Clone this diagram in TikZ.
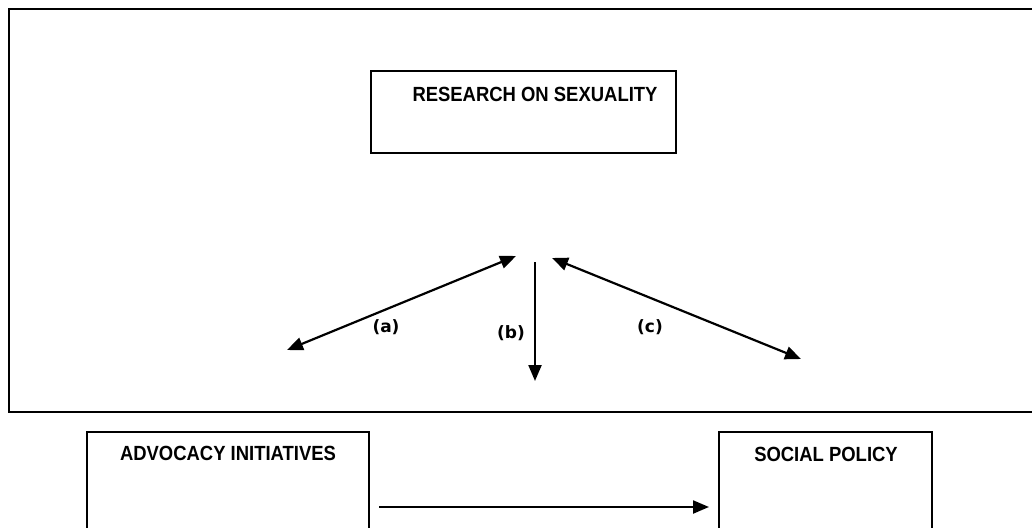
\documentclass[tikz,border=0pt]{standalone}
\usepackage{fontspec}
\setmainfont{Liberation Sans}
\newfontfamily\boxfont[FakeStretch=0.9]{Liberation Sans}
\newfontfamily\labfont{DejaVu Sans}
\usetikzlibrary{arrows.meta}
\begin{document}
\begin{tikzpicture}[x=1pt,y=-1pt,
  boxstyle/.style={draw, line width=1.8pt, rectangle, inner sep=0pt},
  boxtext/.style={anchor=north, inner sep=0pt, font=\boxfont\bfseries\fontsize{20.5}{22}\selectfont},
  lab/.style={inner sep=0pt, font=\labfont\bfseries\fontsize{17}{19}\selectfont},
  arr/.style={line width=2.2pt, -{Triangle[length=16pt,width=13pt]}},
  darr/.style={line width=2.2pt, {Triangle[length=16pt,width=13pt]}-{Triangle[length=16pt,width=13pt]}}]
\clip (0,0) rectangle (1032,527);
\fill[white] (0,0) rectangle (1032,527);
% frame
\draw[line width=2.4pt] (1050,9) -- (9,9) -- (9,412) -- (1050,412);
% boxes
\node[boxstyle, minimum width=305pt, minimum height=82pt] (research) at (523.5,112) {};
\node[boxtext] (researchtxt) at (535,87) {RESEARCH ON SEXUALITY};
\node[boxstyle, minimum width=282pt, minimum height=130pt] (advocacy) at (228,497) {};
\node[boxtext] (advocacytxt) at (228,446) {ADVOCACY INITIATIVES};
\node[boxstyle, minimum width=213pt, minimum height=130pt] (social) at (825.5,497) {};
\node[boxtext] (socialtxt) at (826,447) {SOCIAL POLICY};
% arrow end points
\coordinate (a1) at (287,350);
\coordinate (a2) at (516,256);
\coordinate (b1) at (535,262);
\coordinate (b2) at (535,381);
\coordinate (c1) at (552,258);
\coordinate (c2) at (801,359);
\coordinate (h1) at (379,507);
\coordinate (h2) at (709,507);
\draw[darr] (a1) -- (a2);
\draw[arr] (b1) -- (b2);
\draw[darr] (c1) -- (c2);
\draw[arr] (h1) -- (h2);
% labels
\node[lab] (la) at (386,327) {(a)};
\node[lab] (lb) at (511,333) {(b)};
\node[lab] (lc) at (650,327) {(c)};
\end{tikzpicture}
\end{document}
